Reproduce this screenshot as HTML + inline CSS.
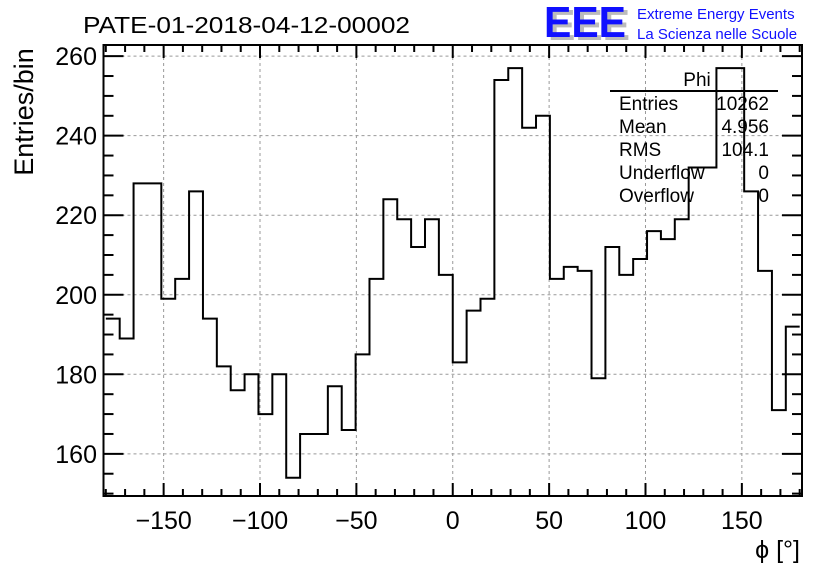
<!DOCTYPE html>
<html><head><meta charset="utf-8"><style>
html,body{margin:0;padding:0;background:#fff}
svg{display:block;font-family:"Liberation Sans",sans-serif}
</style></head><body>
<svg id="chart" width="836" height="572" viewBox="0 0 836 572">
<text x="83" y="33" font-size="23" textLength="327" lengthAdjust="spacingAndGlyphs">PATE-01-2018-04-12-00002</text>
<g>
<text x="548" y="40" font-size="44" font-weight="bold" fill="#bbb" textLength="82" lengthAdjust="spacingAndGlyphs">EEE</text>
<text x="544" y="37" font-size="44" font-weight="bold" fill="#1010ff" textLength="82" lengthAdjust="spacingAndGlyphs">EEE</text>
<text x="637" y="19" font-size="15" fill="#1010ff">Extreme Energy Events</text>
<text x="637" y="39" font-size="15" fill="#1010ff">La Scienza nelle Scuole</text>
</g>
<g id="grid"></g>
<g id="ticks"></g>
<path id="hist" fill="none" stroke="#000" stroke-width="2"/>
<rect x="103.5" y="45" width="698.5" height="451" fill="none" stroke="#000" stroke-width="2"/>
<text transform="translate(33,112) rotate(-90)" font-size="27" text-anchor="middle">Entries/bin</text>
<text x="800" y="558" font-size="25" text-anchor="end">ϕ [°]</text>
<g font-size="19">
<text x="697" y="86" text-anchor="middle">Phi</text>
<line x1="610" y1="91" x2="778" y2="91" stroke="#000" stroke-width="2"/>
<text x="619" y="110">Entries</text><text x="769" y="110" text-anchor="end">10262</text>
<text x="619" y="133">Mean</text><text x="769" y="133" text-anchor="end">4.956</text>
<text x="619" y="156">RMS</text><text x="769" y="156" text-anchor="end">104.1</text>
<text x="619" y="179">Underflow</text><text x="769" y="179" text-anchor="end">0</text>
<text x="619" y="202">Overflow</text><text x="769" y="202" text-anchor="end">0</text>
</g>
</svg>
<script>
const binLow = -180;
const binWidth = 7.2;
const counts = [194,189,228,228,199,204,226,194,182,176,180,170,180,154,165,165,177,166,185,204,224,219,212,219,205,183,196,199,254,257,242,245,204,207,206,179,212,205,209,216,214,219,232,232,257,257,226,206,171,192];
const xTicks = [-150,-100,-50,0,50,100,150];
const yTicks = [160,180,200,220,240,260];
const X0=103.5,X1=802,XMIN=-181.2,XMAX=181.2;
const Y0=496,Y1=45,YMIN=149.4,YMAX=262.8;
const sx=v=>X0+(v-XMIN)/(XMAX-XMIN)*(X1-X0);
const sy=v=>Y0-(v-YMIN)/(YMAX-YMIN)*(Y0-Y1);
const NS="http://www.w3.org/2000/svg";
const grid=document.getElementById('grid'), ticks=document.getElementById('ticks');
function ln(p,x1,y1,x2,y2,st){const l=document.createElementNS(NS,'line');l.setAttribute('x1',x1);l.setAttribute('y1',y1);l.setAttribute('x2',x2);l.setAttribute('y2',y2);l.setAttribute('stroke',st.c);l.setAttribute('stroke-width',st.w);if(st.d)l.setAttribute('stroke-dasharray',st.d);p.appendChild(l);return l;}
xTicks.forEach(v=>{
  const g=ln(grid,sx(v),Y1,sx(v),Y0,{c:'#999',w:1,d:'3,3'});
  
  
  const t=document.createElementNS(NS,'text');t.setAttribute('x',sx(v));t.setAttribute('y',529);t.setAttribute('font-size','25');t.setAttribute('text-anchor','middle');
  t.textContent=(v<0?'\u2212'+(-v):String(v));
  
  
  ticks.appendChild(t);
});
yTicks.forEach(v=>{
  const g=ln(grid,X0,sy(v),X1,sy(v),{c:'#999',w:1,d:'3,3'});
  
  
  const t=document.createElementNS(NS,'text');t.setAttribute('x',97);t.setAttribute('y',sy(v)+9);t.setAttribute('font-size','25');t.setAttribute('text-anchor','end');
  t.textContent=String(v);
  
  
  ticks.appendChild(t);
});
for(let v=-180;v<=180;v+=10){const m=v%50===0,L=m?13:7;
  ln(ticks,sx(v),Y0,sx(v),Y0-L,{c:'#000',w:2});ln(ticks,sx(v),Y1,sx(v),Y1+L,{c:'#000',w:2});}
for(let v=150;v<=260;v+=5){const m=v%20===0,L=m?20:10;
  ln(ticks,X0,sy(v),X0+L,sy(v),{c:'#000',w:2});ln(ticks,X1,sy(v),X1-L,sy(v),{c:'#000',w:2});}
let d='';
counts.forEach((c,i)=>{
  const a=Math.max(sx(binLow+i*binWidth),X0),b=Math.min(sx(binLow+(i+1)*binWidth),X1),y=sy(c);
  d+=(i===0?'M':'L')+a+','+y+'L'+b+','+y;
});
document.getElementById('hist').setAttribute('d',d);
</script>
</body></html>
